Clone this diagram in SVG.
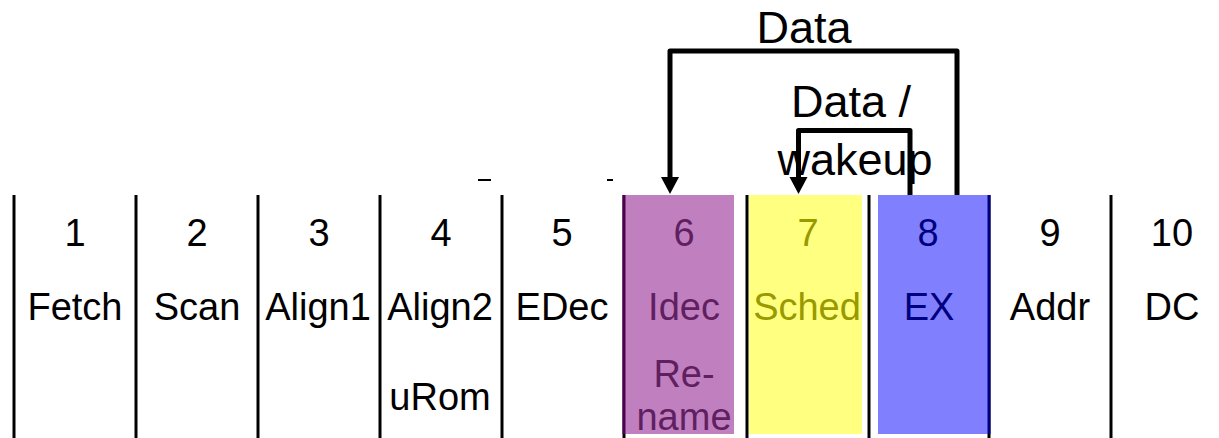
<svg xmlns="http://www.w3.org/2000/svg" width="1219" height="438" viewBox="0 0 1219 438">
  <style>
    text { font-family: "Liberation Sans", Arial, sans-serif; text-anchor: middle; }
    .lbl { font-size: 38px; fill: #000; }
    .big { font-size: 45px; fill: #000; }
    .sep { stroke: #000; stroke-width: 3; }
    .wire { fill: none; stroke: #000; stroke-width: 5; stroke-linejoin: round; }
    .head { fill: #000; }
  </style>

  <rect width="1219" height="438" fill="#fff"/>

  <!-- column separators -->
  <g id="separators">
    <line class="sep" x1="14" y1="195" x2="14" y2="438"/>
    <line class="sep" x1="136" y1="195" x2="136" y2="438"/>
    <line class="sep" x1="258" y1="195" x2="258" y2="438"/>
    <line class="sep" x1="380" y1="195" x2="380" y2="438"/>
    <line class="sep" x1="502" y1="195" x2="502" y2="438"/>
    <line class="sep" x1="624" y1="195" x2="624" y2="438"/>
    <line class="sep" x1="747" y1="195" x2="747" y2="438"/>
    <line class="sep" x1="869" y1="195" x2="869" y2="438"/>
    <line class="sep" x1="989" y1="195" x2="989" y2="438"/>
    <line class="sep" x1="1111" y1="195" x2="1111" y2="438"/>
    <rect x="478" y="179" width="13" height="2" fill="#000"/>
    <rect x="607" y="179" width="6" height="2" fill="#000"/>
  </g>

  <g id="stage1">
    <text class="lbl" x="75" y="246">1</text>
    <text class="lbl" x="75" y="320">Fetch</text>
  </g>
  <g id="stage2">
    <text class="lbl" x="197" y="246">2</text>
    <text class="lbl" x="197" y="320">Scan</text>
  </g>
  <g id="stage3">
    <text class="lbl" x="319" y="246">3</text>
    <text class="lbl" x="318" y="320">Align1</text>
  </g>
  <g id="stage4">
    <text class="lbl" x="441" y="246">4</text>
    <text class="lbl" x="440" y="320">Align2</text>
    <text class="lbl" x="440" y="410">uRom</text>
  </g>
  <g id="stage5">
    <text class="lbl" x="562" y="246">5</text>
    <text class="lbl" x="562" y="320">EDec</text>
  </g>
  <g id="stage6">
    <rect x="624" y="195" width="110" height="239" fill="#c080c0"/>
    <line x1="624" y1="195" x2="624" y2="434" stroke="#500050" stroke-width="3"/>
    <text class="lbl" x="684" y="246" style="fill:#602060">6</text>
    <text class="lbl" x="684" y="320" style="fill:#602060">Idec</text>
    <text class="lbl" x="684" y="387" style="fill:#602060">Re-</text>
    <text class="lbl" x="684" y="430" style="fill:#602060">name</text>
  </g>
  <g id="stage7">
    <rect x="749" y="195" width="113" height="239" fill="#ffff80"/>
    <text class="lbl" x="808" y="246" style="fill:#999900">7</text>
    <text class="lbl" x="807" y="320" style="fill:#999900">Sched</text>
  </g>
  <g id="stage8">
    <rect x="878" y="195" width="112" height="239" fill="#8080ff"/>
    <line x1="989" y1="195" x2="989" y2="434" stroke="#000080" stroke-width="3"/>
    <text class="lbl" x="928" y="246" style="fill:#000080">8</text>
    <text class="lbl" x="929" y="320" style="fill:#000080">EX</text>
  </g>
  <g id="stage9">
    <text class="lbl" x="1050" y="246">9</text>
    <text class="lbl" x="1050" y="320">Addr</text>
  </g>
  <g id="stage10">
    <text class="lbl" x="1172" y="246">10</text>
    <text class="lbl" x="1172" y="320">DC</text>
  </g>

  <!-- forwarding paths -->
  <g id="connectors">
    <text class="big" x="804" y="43">Data</text>
    <text class="big" x="851" y="117">Data /</text>
    <text class="big" x="855" y="175">wakeup</text>

    <path class="wire" d="M957 195 V51 H670 V178"/>
    <polygon class="head" points="661,177 679,177 670,194"/>

    <path class="wire" d="M910 195 V130.5 H798.5 V178"/>
    <polygon class="head" points="789.5,177 807.5,177 798.5,194"/>
  </g>
</svg>
